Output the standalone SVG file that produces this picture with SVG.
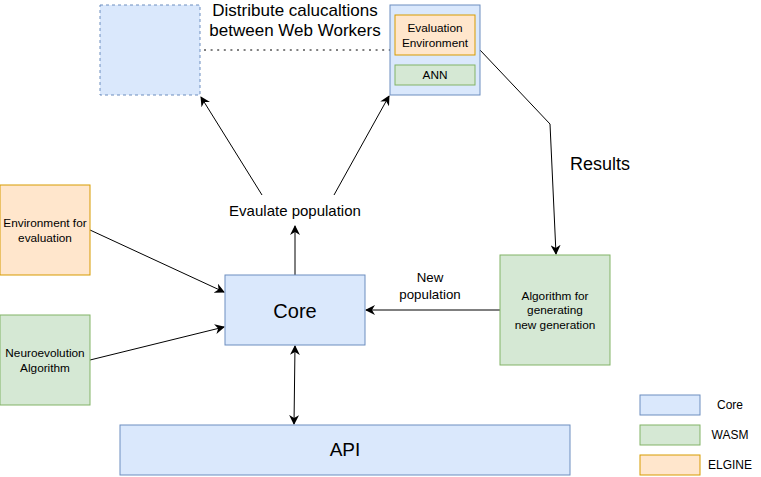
<svg xmlns="http://www.w3.org/2000/svg" width="761" height="477" viewBox="0 0 761 477">
<style>
text{font-family:"Liberation Sans",Arial,sans-serif;fill:#000;text-anchor:middle}
.blue{fill:#dae8fc;stroke:#6c8ebf;stroke-width:1}
.green{fill:#d5e8d4;stroke:#82b366;stroke-width:1}
.orange{fill:#ffe6cc;stroke:#d79b00;stroke-width:1}
.edge{fill:none;stroke:#000;stroke-width:1}
</style>
<defs>
<marker id="arr" viewBox="0 0 10 10" refX="9" refY="5" markerWidth="10" markerHeight="10" markerUnits="userSpaceOnUse" orient="auto-start-reverse">
<path d="M0,0 L10,5 L0,10 L3,5 Z" fill="#000"/>
</marker>
</defs>
<rect width="761" height="477" fill="#fff"/>
<g id="connectors">
<line class="edge" x1="204" y1="50" x2="390" y2="50" stroke-dasharray="2 4.6" stroke-width="2"/>
<polyline class="edge" points="480,50 550,124 556,254" marker-end="url(#arr)"/>
<line class="edge" x1="90" y1="230" x2="224" y2="292" marker-end="url(#arr)"/>
<line class="edge" x1="90" y1="360" x2="224" y2="327" marker-end="url(#arr)"/>
<line class="edge" x1="295" y1="275" x2="295" y2="226" marker-end="url(#arr)"/>
<line class="edge" x1="262" y1="195" x2="201" y2="97" marker-end="url(#arr)"/>
<line class="edge" x1="334" y1="195" x2="389" y2="96" marker-end="url(#arr)"/>
<line class="edge" x1="500" y1="310" x2="366" y2="310" marker-end="url(#arr)"/>
<line class="edge" x1="295" y1="346" x2="294" y2="424" marker-start="url(#arr)" marker-end="url(#arr)"/>
</g>
<g id="worker-placeholder">
<rect x="100" y="5" width="100" height="90" class="blue" stroke-dasharray="3 3"/>
</g>
<g id="distribute-label">
<text x="295" y="16" font-size="17">Distribute calucaltions</text>
<text x="295" y="36" font-size="17">between Web Workers</text>
</g>
<g id="worker">
<rect x="390" y="5" width="90" height="90" class="blue"/>
<rect x="395" y="15" width="80" height="40" class="orange"/>
<text x="435" y="32" font-size="11.8">Evaluation</text>
<text x="435" y="47" font-size="11.8">Environment</text>
<rect x="395" y="65" width="80" height="20" class="green"/>
<text x="435" y="79" font-size="11.8">ANN</text>
</g>
<g id="results-label">
<text x="600" y="170" font-size="18">Results</text>
</g>
<g id="evaluate-label">
<text x="295" y="216" font-size="15">Evaulate population</text>
</g>
<g id="environment">
<rect x="0" y="185" width="90" height="90" class="orange"/>
<text x="45" y="227" font-size="11.8">Environment for</text>
<text x="45" y="242" font-size="11.8">evaluation</text>
</g>
<g id="neuroevolution">
<rect x="0" y="315" width="90" height="90" class="green"/>
<text x="45" y="357" font-size="11.8">Neuroevolution</text>
<text x="45" y="372" font-size="11.8">Algorithm</text>
</g>
<g id="core">
<rect x="225" y="275" width="140" height="70" class="blue"/>
<text x="295" y="318" font-size="20">Core</text>
</g>
<g id="new-population-label">
<text x="430" y="282" font-size="13.3">New</text>
<text x="430" y="299" font-size="13.3">population</text>
</g>
<g id="algorithm">
<rect x="500" y="255" width="110" height="110" class="green"/>
<text x="555" y="300" font-size="11.8">Algorithm for</text>
<text x="555" y="314" font-size="11.8">generating</text>
<text x="555" y="329" font-size="11.8">new generation</text>
</g>
<g id="api">
<rect x="120" y="425" width="450" height="50" class="blue"/>
<text x="345" y="456" font-size="19">API</text>
</g>
<g id="legend">
<rect x="640" y="395" width="60" height="20" class="blue"/>
<text x="730" y="409" font-size="12">Core</text>
<rect x="640" y="425" width="60" height="20" class="green"/>
<text x="730" y="439" font-size="12">WASM</text>
<rect x="640" y="455" width="60" height="20" class="orange"/>
<text x="730" y="469" font-size="12">ELGINE</text>
</g>
</svg>
